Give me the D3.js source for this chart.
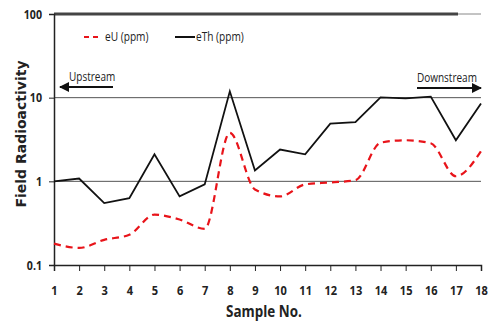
<!DOCTYPE html>
<html>
<head>
<meta charset="utf-8">
<script src="https://cdn.jsdelivr.net/npm/d3@7"></script>
<style>
body { margin: 0; background: #fff; }
text { font-family: "Open Sans", sans-serif; }
</style>
</head>
<body>
<svg id="chart" width="488" height="322"></svg>
<script>
var samples = [1,2,3,4,5,6,7,8,9,10,11,12,13,14,15,16,17,18];
var eU  = [0.18,0.16,0.2,0.23,0.4,0.35,0.27,3.8,0.8,0.66,0.92,0.97,1.03,2.9,3.1,2.85,1.15,2.3];
var eTh = [1.0,1.08,0.55,0.63,2.1,0.66,0.92,11.9,1.35,2.4,2.1,4.9,5.1,10.1,9.8,10.3,3.1,8.5];
var yTicks = [0.1, 1, 10, 100];
var yTickLabels = ["0.1", "1", "10", "100"];

var svg = d3.select("#chart");
var x = d3.scaleLinear().domain([1, 18]).range([54, 481]);
var y = d3.scaleLog().domain([0.1, 100]).range([265, 14]);

// narrow text: the reference uses a condensed face, so squeeze Open Sans
function label(t, px, py, size, sx, weight) {
  return svg.append("text").attr("transform", "translate(" + px + "," + py + ") scale(" + sx + ",1)")
    .attr("font-size", size).attr("font-weight", weight || "normal").attr("fill", "#222").text(t);
}

// gridlines
svg.selectAll("line.grid").data([1, 10]).enter().append("line")
  .attr("x1", 54).attr("x2", 481)
  .attr("y1", function(d){ return y(d); }).attr("y2", function(d){ return y(d); })
  .attr("stroke", "#555").attr("stroke-width", 1);
// top border
svg.append("line").attr("x1", 54).attr("x2", 481).attr("y1", y(100)).attr("y2", y(100))
  .attr("stroke", "#888").attr("stroke-width", 1);
svg.append("line").attr("x1", 54).attr("x2", 458).attr("y1", y(100)).attr("y2", y(100))
  .attr("stroke", "#444").attr("stroke-width", 3);

// y axis
var yAxis = d3.axisLeft(y).tickValues(yTicks)
  .tickFormat(function(d, i){ return yTickLabels[i]; }).tickSize(5).tickPadding(7);
var gy = svg.append("g").attr("transform", "translate(54,0)").call(yAxis);
gy.select(".domain").attr("stroke", "#222").attr("stroke-width", 1.5);
gy.selectAll(".tick line").attr("stroke", "#222");
gy.selectAll(".tick text").attr("font-size", 12.5).attr("font-weight", "bold").attr("fill", "#222")
  .attr("transform", "scale(0.85,1)").attr("x", -12 / 0.85);

// x axis
var xAxis = d3.axisBottom(x).tickValues(samples).tickFormat(d3.format("d")).tickSize(6).tickPadding(15);
var gx = svg.append("g").attr("transform", "translate(0,265)").call(xAxis);
gx.select(".domain").attr("stroke", "#222").attr("stroke-width", 1.5);
gx.selectAll(".tick line").attr("stroke", "#222");
gx.selectAll(".tick text").attr("font-size", 13).attr("font-weight", "bold").attr("fill", "#222")
  .attr("transform", "scale(0.85,1)");

// lines
var lineU = d3.line().x(function(d, i){ return x(samples[i]); }).y(function(d){ return y(d); })
  .curve(d3.curveMonotoneX);
var lineTh = d3.line().x(function(d, i){ return x(samples[i]); }).y(function(d){ return y(d); });

svg.append("path").datum(eU).attr("d", lineU).attr("fill", "none")
  .attr("stroke", "#e8141a").attr("stroke-width", 2.2).attr("stroke-dasharray", "7,5");
svg.append("path").datum(eTh).attr("d", lineTh).attr("fill", "none")
  .attr("stroke", "#111").attr("stroke-width", 1.8);

// legend
svg.append("line").attr("x1", 84).attr("x2", 101).attr("y1", 37).attr("y2", 37)
  .attr("stroke", "#e8141a").attr("stroke-width", 2.2).attr("stroke-dasharray", "5,4");
label("eU (ppm)", 105, 41, 13, 0.78);
svg.append("line").attr("x1", 175).attr("x2", 195).attr("y1", 37).attr("y2", 37)
  .attr("stroke", "#111").attr("stroke-width", 2);
label("eTh (ppm)", 196, 41, 13, 0.78);

// arrows
svg.append("defs").append("marker").attr("id", "ah").attr("viewBox", "0 0 10 10")
  .attr("refX", 9).attr("refY", 5).attr("markerWidth", 5).attr("markerHeight", 5)
  .attr("orient", "auto").append("path").attr("d", "M0,0L10,5L0,10z").attr("fill", "#111");
label("Upstream", 69, 81, 12.5, 0.8);
svg.append("line").attr("x1", 113).attr("x2", 60).attr("y1", 87).attr("y2", 87)
  .attr("stroke", "#111").attr("stroke-width", 2).attr("marker-end", "url(#ah)");
label("Downstream", 417, 82, 12.5, 0.8);
svg.append("line").attr("x1", 417).attr("x2", 481).attr("y1", 88).attr("y2", 88)
  .attr("stroke", "#111").attr("stroke-width", 2).attr("marker-end", "url(#ah)");

// axis titles
svg.append("text").attr("transform", "translate(26,134) rotate(-90)").attr("text-anchor", "middle")
  .style("font-family", "'DejaVu Sans', Verdana, sans-serif").attr("font-size", 14).attr("font-weight", "bold")
  .attr("fill", "#222").text("Field Radioactivity");
label("Sample No.", 226, 317, 16, 0.84, "bold");
</script>
</body>
</html>
